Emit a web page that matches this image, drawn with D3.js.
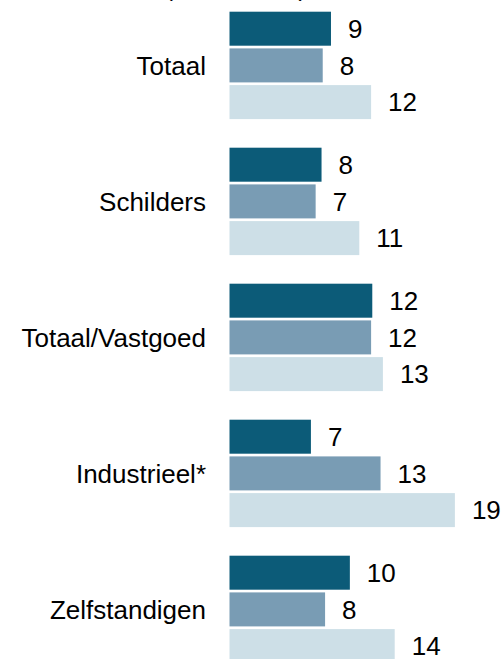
<!DOCTYPE html>
<html>
<head>
<meta charset="utf-8">
<script src="https://cdn.jsdelivr.net/npm/d3@7"></script>
<style>
  body { margin: 0; background: #fff; }
  svg { display: block; font-family: Arial, "Liberation Sans", sans-serif; }
</style>
</head>
<body>
<script>
// categories and series (labels are rounded)
const categories = ["Totaal", "Schilders", "Totaal/Vastgoed", "Industrieel*", "Zelfstandigen"];
const seriesNames = ["s1", "s2", "s3"];
const s1 = [8.6, 7.8, 12.1, 6.9, 10.2];
const s2 = [7.9, 7.3, 12.0, 12.8, 8.1];
const s3 = [12.0, 11.0, 13.0, 19.1, 14.0];
const colors = ["#0c5b78", "#799cb4", "#cddfe7"];

const svgWidth = 502;
const svgHeight = 659;

const data = categories.map((c, i) => ({
  cat: c,
  values: [s1[i], s2[i], s3[i]]
}));

const svg = d3.select("body")
  .append("svg")
  .attr("width", svgWidth)
  .attr("height", svgHeight);

// title is cut off at the top of the picture, only the tails show
svg.append("text")
  .attr("x", 165)
  .attr("y", -4)
  .style("font-size", "24px")
  .attr("fill", "#000")
  .text("(in maanden)");

// Define scales
const yScale = d3.scaleBand()
  .domain(categories)
  .range([11.7, 11.7 + 136 * categories.length]);

const yInner = d3.scaleBand()
  .domain(seriesNames)
  .range([0, 107.4])
  .paddingInner(0.0736);

const xScale = d3.scaleLinear()
  .domain([0, 20])
  .range([229.5, 229.5 + 236]);

const groups = svg.selectAll(".group")
  .data(data)
  .enter().append("g")
  .attr("class", "group")
  .attr("transform", d => `translate(0,${yScale(d.cat)})`);

// bars
groups.selectAll("rect")
  .data(d => d.values.map((v, j) => ({ key: seriesNames[j], v: v, j: j })))
  .enter().append("rect")
  .attr("x", xScale(0))
  .attr("y", d => yInner(d.key))
  .attr("width", d => xScale(d.v) - xScale(0))
  .attr("height", yInner.bandwidth())
  .attr("fill", d => colors[d.j]);

// value labels
groups.selectAll(".val")
  .data(d => d.values.map((v, j) => ({ key: seriesNames[j], v: v })))
  .enter().append("text")
  .attr("class", "val")
  .attr("x", d => xScale(d.v) + 17)
  .attr("y", d => yInner(d.key) + yInner.bandwidth() / 2)
  .attr("dy", "0.36em")
  .style("font-size", "26px")
  .attr("fill", "#000")
  .text(d => d3.format(".0f")(d.v));

// category labels
groups.append("text")
  .attr("x", 206)
  .attr("y", 107.4 / 2)
  .attr("dy", "0.36em")
  .attr("text-anchor", "end")
  .style("font-size", "26px")
  .attr("fill", "#000")
  .text(d => d.cat);
</script>
</body>
</html>
